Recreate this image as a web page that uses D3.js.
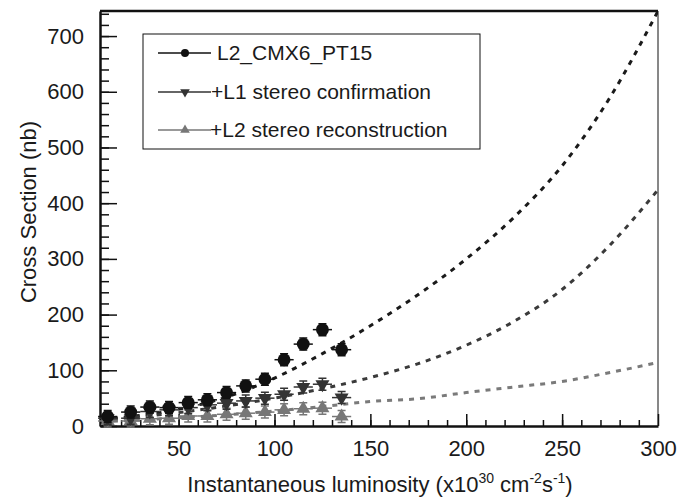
<!DOCTYPE html>
<html>
<head>
<meta charset="utf-8">
<script src="https://cdn.jsdelivr.net/npm/d3@7"></script>
<style>
	body{margin:0;background:#fff;}
	text{font-family:"Liberation Sans",Arial,sans-serif;fill:#1a1a1a;}
	.eje .tick line{stroke:#111;stroke-width:1.5;}
	.eje path{stroke:#111;stroke-width:2.5;}
</style>
</head>
<body>
<div id="grafica"></div>
<script>

// luminosidad (centro de cada bin) y secciones eficaces
var binX   = [13,25,35,45,55,65,75,85,95,105,115,125,135];
var pt15Y  = [17,25,34,33,42,47,60,72,84,119,147,173,137];
var l1Y    = [14,14,26,29,33,38,41,45,50,57,70,75,51];
var l2Y    = [9,9,13,14,18,18,21,23,25,29,31,32,17];
var binMedio = 5;

// curvas de ajuste (punteadas)
var fitX    = [10,25,50,75,100,125,150,175,200,225,250,275,300];
var fitPT15 = [12,17,30,52,86,130,180,236,300,375,467,590,745];
var fitL1   = [10,15,24,36,50,67,87,112,145,188,245,325,424];
var fitL2   = [8,10,15,20,27,35,44,49,60,70,80,96,114];

var xTicks = [50,100,150,200,250,300];
var yTicks = [0,100,200,300,400,500,600,700];

var nombres = ["L2_CMX6_PT15","+L1 stereo confirmation","+L2 stereo reconstruction"];

var W = 693, H = 497;
var izq = 100, der = 658, arriba = 11, abajo = 426;

var svg = d3.select("#grafica").append("svg")
	.attr("width",W).attr("height",H);

var x = d3.scaleLinear().domain([9,300]).range([izq,der]);
var y = d3.scaleLinear().domain([0,745]).range([abajo,arriba]);

svg.append("clipPath").attr("id","recorte")
	.append("rect").attr("x",izq).attr("y",arriba)
	.attr("width",der-izq).attr("height",abajo-arriba);

/* marco: arriba grueso, derecha fino */
svg.append("line").attr("x1",izq).attr("x2",der).attr("y1",arriba).attr("y2",arriba)
	.attr("stroke","#111").attr("stroke-width",2.5);
svg.append("line").attr("x1",der).attr("x2",der).attr("y1",arriba).attr("y2",abajo)
	.attr("stroke","#111").attr("stroke-width",1);

//ejes: menores y mayores
svg.append("g").attr("class","eje")
	.attr("transform","translate(0,"+abajo+")")
	.call(d3.axisBottom(x).tickValues(d3.range(10,300,10)).tickSize(-6).tickSizeOuter(0).tickFormat(""))
	.select("path").remove();
svg.append("g").attr("class","eje")
	.attr("transform","translate(0,"+abajo+")")
	.call(d3.axisBottom(x).tickValues(xTicks).tickSize(-12).tickSizeOuter(0).tickPadding(14))
	.selectAll("text").style("font-size","22px");

svg.append("g").attr("class","eje")
	.attr("transform","translate("+izq+",0)")
	.call(d3.axisLeft(y).tickValues(d3.range(20,745,20)).tickSize(-9).tickSizeOuter(0).tickFormat(""))
	.select("path").remove();
svg.append("g").attr("class","eje")
	.attr("transform","translate("+izq+",0)")
	.call(d3.axisLeft(y).tickValues(yTicks).tickSize(-17).tickSizeOuter(0).tickPadding(16))
	.selectAll("text").style("font-size","22px");

/* titulos */
var tx = svg.append("text").attr("x",380).attr("y",492)
	.attr("text-anchor","middle").style("font-size","22px");
tx.append("tspan").text("Instantaneous luminosity (x10");
tx.append("tspan").attr("dy",-9).style("font-size","14px").text("30");
tx.append("tspan").attr("dy",9).text(" cm");
tx.append("tspan").attr("dy",-9).style("font-size","14px").text("-2");
tx.append("tspan").attr("dy",9).text("s");
tx.append("tspan").attr("dy",-9).style("font-size","14px").text("-1");
tx.append("tspan").attr("dy",9).text(")");

svg.append("text").attr("transform","translate(36,212) rotate(-90)")
	.attr("text-anchor","middle").style("font-size","22px")
	.text("Cross Section (nb)");

/*curvas de ajuste*/
var linea = d3.line().x(function(d){return x(d[0]);}).y(function(d){return y(d[1]);})
	.curve(d3.curveMonotoneX);
var ajustes = [{v:fitPT15,c:"#1a1a1a"},{v:fitL1,c:"#3a3a3a"},{v:fitL2,c:"#7a7a7a"}];
ajustes.forEach(function(a){
	svg.append("path").attr("clip-path","url(#recorte)")
		.attr("d",linea(d3.zip(fitX,a.v)))
		.attr("fill","none").attr("stroke",a.c)
		.attr("stroke-width",3).attr("stroke-dasharray","5,6");
});

// marcadores
var simbCirc = d3.symbol().type(d3.symbolCircle).size(130);
var simbTri  = d3.symbol().type(d3.symbolTriangle).size(85);

var series = [
	{v:l2Y,  c:"#777", forma:simbTri, rot:0},
	{v:l1Y,  c:"#333", forma:simbTri, rot:180},
	{v:pt15Y,c:"#111", forma:simbCirc, rot:0}
];

series.forEach(function(s){
	var g = svg.append("g");
	var pts = d3.zip(binX,s.v);
	g.selectAll(".errx").data(pts).enter().append("line")
		.attr("x1",function(d){return x(d[0]-binMedio);})
		.attr("x2",function(d){return x(d[0]+binMedio);})
		.attr("y1",function(d){return y(d[1]);})
		.attr("y2",function(d){return y(d[1]);})
		.attr("stroke",s.c).attr("stroke-width",1.5);
	g.selectAll(".erry").data(pts).enter().append("path")
		.attr("d",function(d){
			var px = x(d[0]), py = y(d[1]);
			return "M"+(px-4)+","+(py-6)+"H"+(px+4)+"M"+px+","+(py-6)+"V"+(py+6)+"M"+(px-4)+","+(py+6)+"H"+(px+4);
		})
		.attr("stroke",s.c).attr("stroke-width",1.5).attr("fill","none");
	g.selectAll(".marca").data(pts).enter().append("path")
		.attr("d",s.forma)
		.attr("transform",function(d){return "translate("+x(d[0])+","+y(d[1])+") rotate("+s.rot+")";})
		.attr("fill",s.c);
});

/*leyenda*/
var ley = svg.append("g");
ley.append("rect").attr("x",143).attr("y",34).attr("width",337).attr("height",115)
	.attr("fill","#fff").attr("stroke","#111").attr("stroke-width",1);
var filas = [
	{n:nombres[0],c:"#111",forma:d3.symbol().type(d3.symbolCircle).size(50),rot:0,yy:53,tx:217},
	{n:nombres[1],c:"#333",forma:d3.symbol().type(d3.symbolTriangle).size(40),rot:180,yy:92,tx:211},
	{n:nombres[2],c:"#777",forma:d3.symbol().type(d3.symbolTriangle).size(40),rot:0,yy:130,tx:210}
];
filas.forEach(function(f){
	ley.append("line").attr("x1",158).attr("x2",211).attr("y1",f.yy).attr("y2",f.yy)
		.attr("stroke",f.c).attr("stroke-width",1.5);
	ley.append("path").attr("d",f.forma)
		.attr("transform","translate(185,"+f.yy+") rotate("+f.rot+")").attr("fill",f.c);
	ley.append("text").attr("x",f.tx).attr("y",f.yy+7).style("font-size","21px").text(f.n);
});

</script>
</body>
</html>
